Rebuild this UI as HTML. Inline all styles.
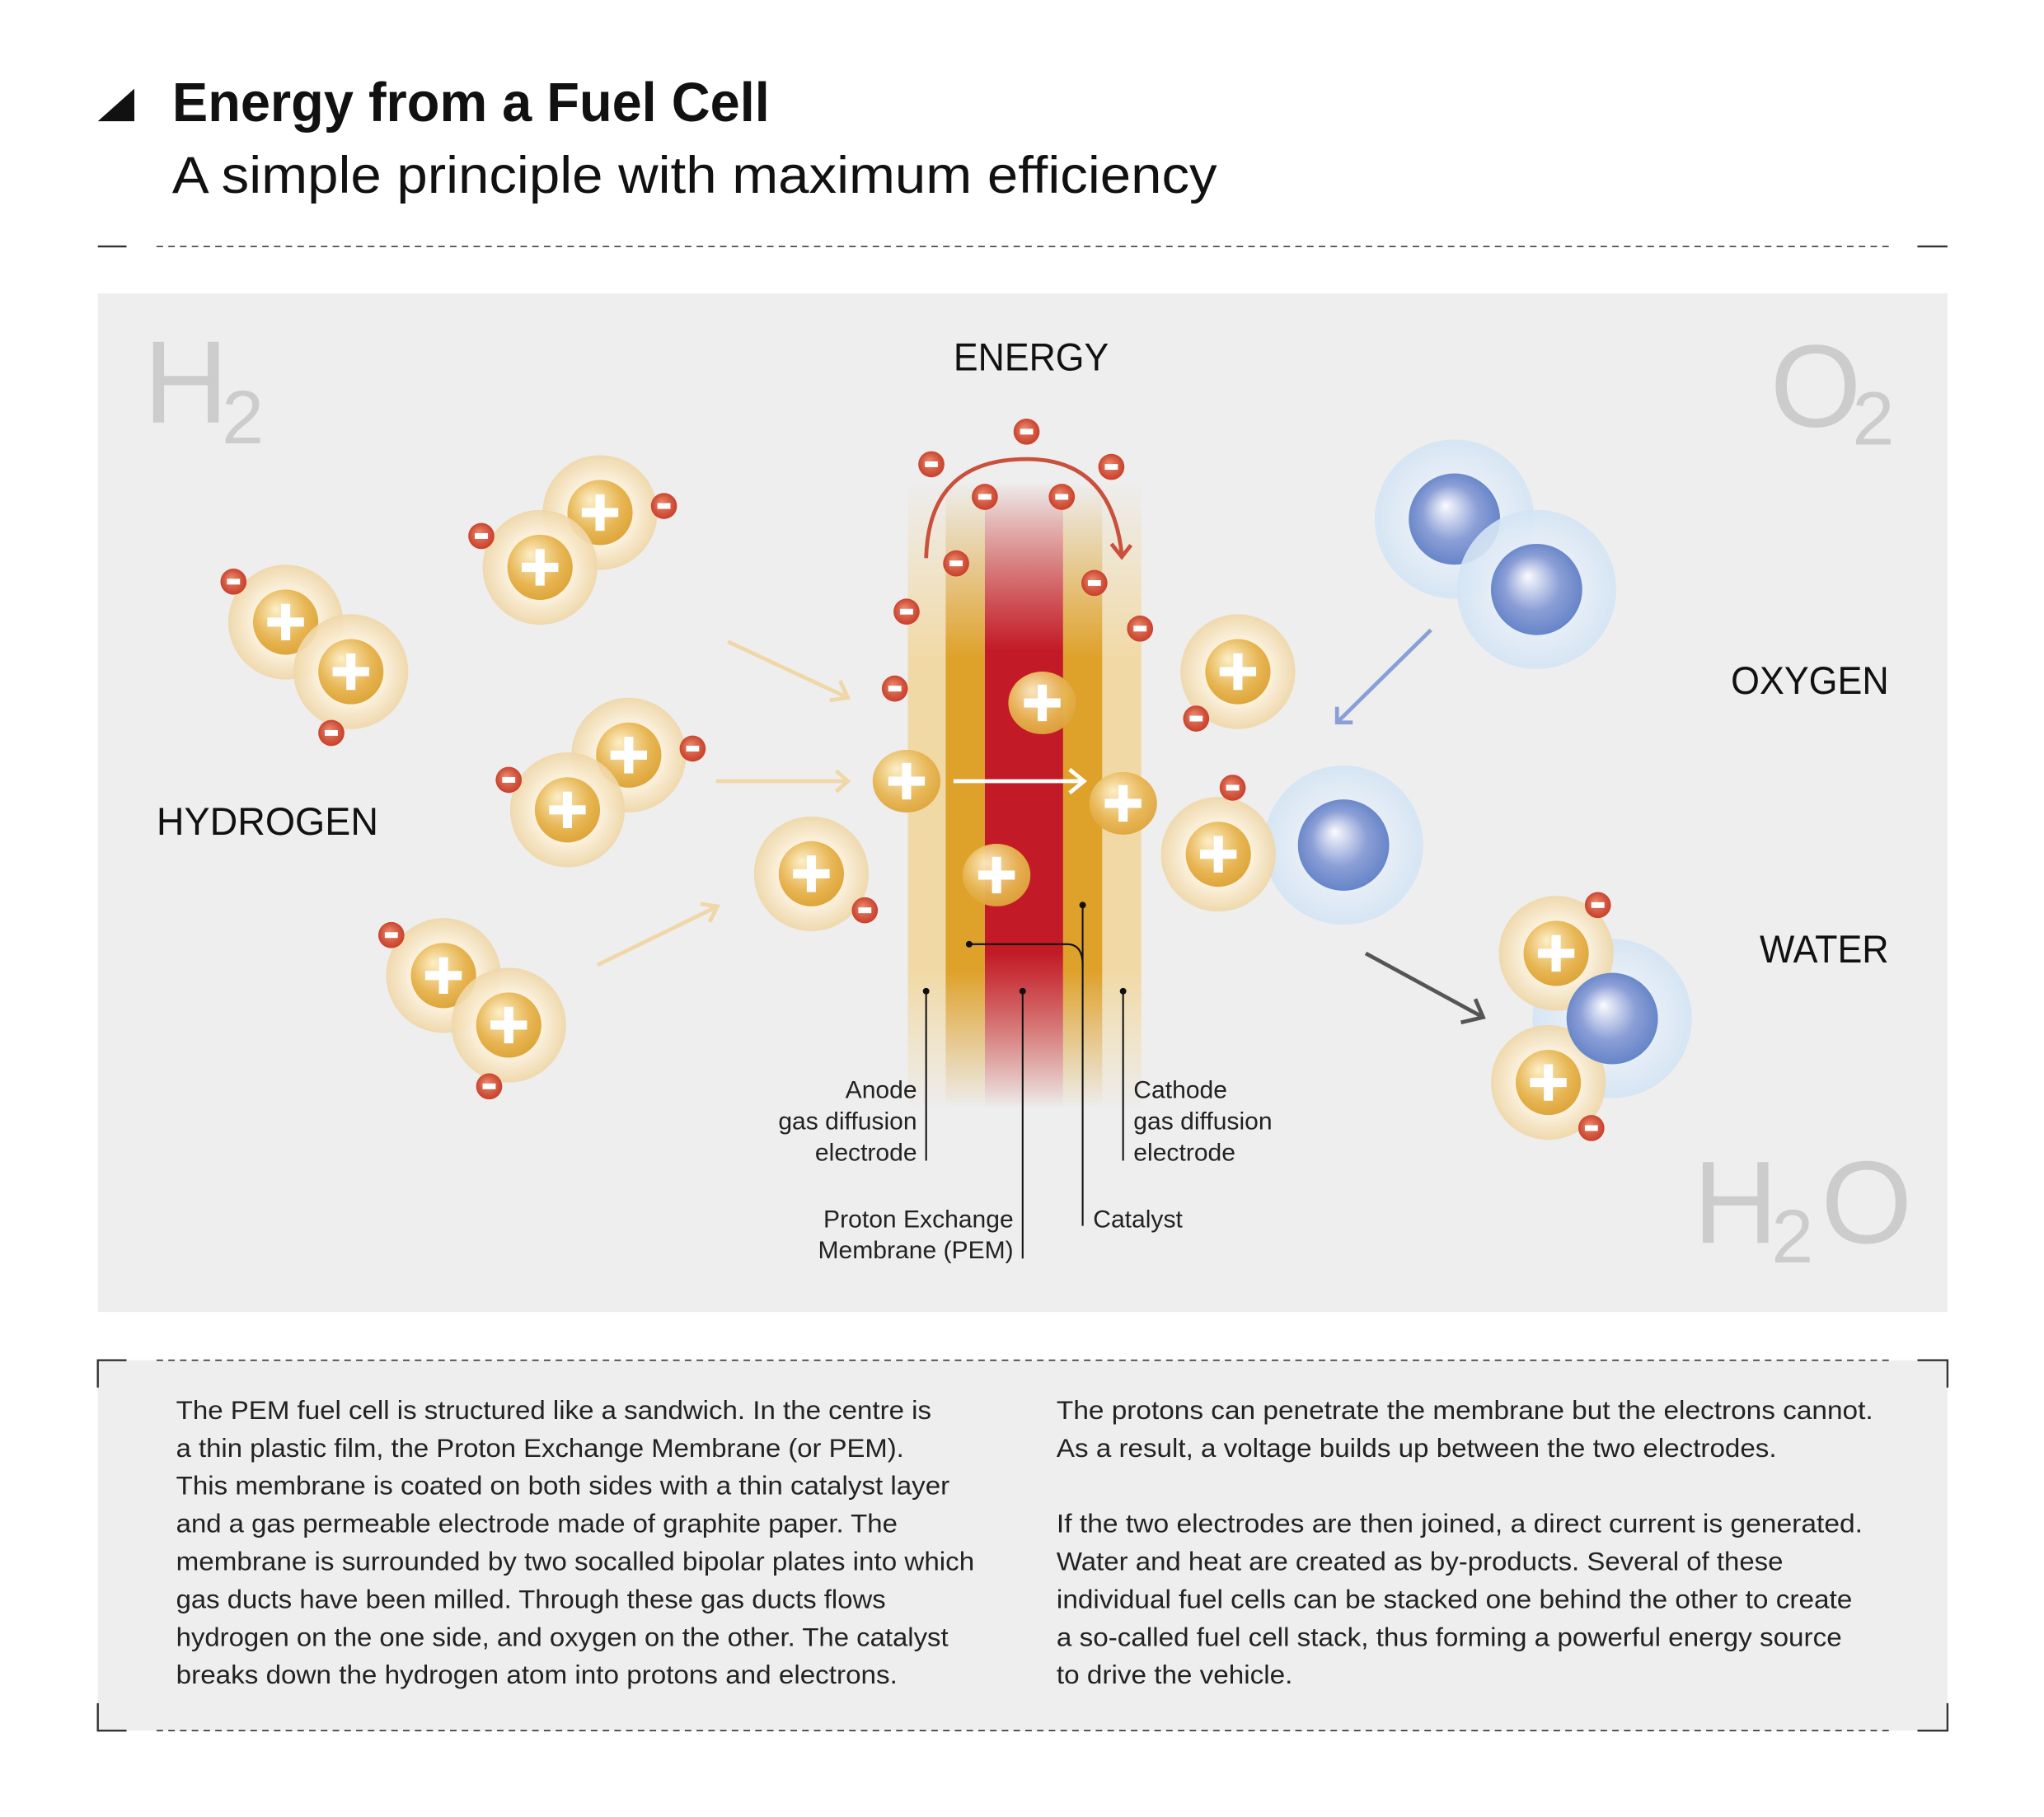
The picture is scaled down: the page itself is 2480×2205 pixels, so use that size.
<!DOCTYPE html>
<html><head><meta charset="utf-8"><style>
html,body{margin:0;padding:0;background:#fff;}
svg{display:block;}
text{font-family:"Liberation Sans",sans-serif;}
</style></head><body>
<svg width="2480" height="2205" viewBox="0 0 1567 1393" preserveAspectRatio="xMinYMin meet" xmlns="http://www.w3.org/2000/svg">
<defs>
<radialGradient id="gGlow" cx="50%" cy="50%" r="50%"><stop offset="0.5" stop-color="#fff6e4"/><stop offset="1" stop-color="#efd6a6"/></radialGradient>
<radialGradient id="gCore" cx="45%" cy="40%" r="60%" fx="35%" fy="30%"><stop offset="0" stop-color="#fcefc8"/><stop offset="0.7" stop-color="#e7b552"/><stop offset="1" stop-color="#dea63c"/></radialGradient>
<radialGradient id="gEl" cx="50%" cy="50%" r="55%" fx="40%" fy="35%"><stop offset="0" stop-color="#ea8a6c"/><stop offset="1" stop-color="#c63a27"/></radialGradient>
<radialGradient id="oGlow" cx="50%" cy="50%" r="50%"><stop offset="0.5" stop-color="#e8eff8"/><stop offset="1" stop-color="#d3e4f4"/></radialGradient>
<radialGradient id="oCore" cx="50%" cy="50%" r="55%" fx="40%" fy="35%"><stop offset="0" stop-color="#fbfbff"/><stop offset="0.55" stop-color="#8c9fd6"/><stop offset="1" stop-color="#5f80c6"/></radialGradient>
<linearGradient id="fadeV" x1="0" y1="0" x2="0" y2="1"><stop offset="0" stop-color="#fff" stop-opacity="0"/><stop offset="0.28" stop-color="#fff" stop-opacity="1"/><stop offset="0.78" stop-color="#fff" stop-opacity="1"/><stop offset="1" stop-color="#fff" stop-opacity="0"/></linearGradient>
<mask id="cellMask" maskUnits="userSpaceOnUse" x="690" y="360" width="200" height="500"><rect x="690" y="370" width="200" height="480" fill="url(#fadeV)"/></mask>
<linearGradient id="redFade" x1="0" y1="0" x2="0" y2="1"><stop offset="0" stop-color="#c21a26" stop-opacity="0"/><stop offset="0.27" stop-color="#c21a26"/><stop offset="0.75" stop-color="#c21a26"/><stop offset="1" stop-color="#c21a26" stop-opacity="0"/></linearGradient>
<g id="pro"><circle r="44" fill="url(#gGlow)" opacity="0.9"/><circle r="25" fill="url(#gCore)"/><rect x="-14" y="-3.5" width="28" height="7" fill="#fff"/><rect x="-3.5" y="-14" width="7" height="28" fill="#fff"/></g>
<g id="proS"><ellipse rx="26" ry="24" fill="url(#gCore)" opacity="0.95"/><rect x="-14" y="-3.5" width="28" height="7" fill="#fff"/><rect x="-3.5" y="-14" width="7" height="28" fill="#fff"/></g>
<g id="el"><circle r="10" fill="url(#gEl)"/><rect x="-5" y="-2.2" width="10" height="4.4" fill="#fff"/></g>
<g id="oxy"><circle r="61" fill="url(#oGlow)" opacity="0.9"/><circle r="35" fill="url(#oCore)"/></g>
</defs>

<polygon points="75,93 103,93 103,68" fill="#111"/>
<text x="132" y="93" font-size="42" font-weight="bold" fill="#111" textLength="458" lengthAdjust="spacingAndGlyphs">Energy from a Fuel Cell</text>
<text x="132" y="148" font-size="40" fill="#111" textLength="801" lengthAdjust="spacingAndGlyphs">A simple principle with maximum efficiency</text>
<line x1="75" y1="189" x2="97" y2="189" stroke="#333" stroke-width="1.5"/>
<line x1="120" y1="189" x2="1450" y2="189" stroke="#333" stroke-width="1" stroke-dasharray="5,4"/>
<line x1="1470" y1="189" x2="1493" y2="189" stroke="#333" stroke-width="1.5"/>

<rect x="75" y="225" width="1418" height="781" fill="#eeeeee"/>
<text x="110" y="324" font-size="90" fill="#cccccc">H</text>
<text x="170" y="340" font-size="58" fill="#cccccc">2</text>
<text x="1357" y="327" font-size="90" fill="#cccccc">O</text>
<text x="1420" y="341" font-size="58" fill="#cccccc">2</text>
<text x="1298" y="953" font-size="90" fill="#cccccc">H</text>
<text x="1358" y="968" font-size="58" fill="#cccccc">2</text>
<text x="1396" y="953" font-size="90" fill="#cccccc">O</text>

<text x="731" y="284" font-size="30" fill="#111" textLength="119" lengthAdjust="spacingAndGlyphs">ENERGY</text>
<text x="120" y="640" font-size="30" fill="#111" textLength="170" lengthAdjust="spacingAndGlyphs">HYDROGEN</text>
<text x="1327" y="532" font-size="30" fill="#111" textLength="121" lengthAdjust="spacingAndGlyphs">OXYGEN</text>
<text x="1349" y="738" font-size="30" fill="#111" textLength="99" lengthAdjust="spacingAndGlyphs">WATER</text>

<g mask="url(#cellMask)">
<rect x="696" y="370" width="29" height="480" fill="#f1d9a6"/>
<rect x="845" y="370" width="30" height="480" fill="#f1d9a6"/>
<rect x="725" y="370" width="30" height="480" fill="#dea12a"/>
<rect x="815" y="370" width="30" height="480" fill="#dea12a"/>
<rect x="755" y="370" width="60" height="480" fill="#ead0b8"/>
</g>
<rect x="755" y="370" width="60" height="480" fill="url(#redFade)"/>

<g stroke="#111" stroke-width="1.3" fill="none">
<line x1="710" y1="760" x2="710" y2="890"/>
<line x1="784" y1="760" x2="784" y2="965"/>
<line x1="861" y1="760" x2="861" y2="890"/>
<line x1="830" y1="694" x2="830" y2="940"/>
<path d="M743,724 H818 Q830,724 830,740"/>
</g>
<g fill="#111"><circle cx="710" cy="760" r="2.5"/><circle cx="784" cy="760" r="2.5"/><circle cx="861" cy="760" r="2.5"/><circle cx="830" cy="694" r="2.5"/><circle cx="743" cy="724" r="2.5"/></g>
<g font-size="19" fill="#222">
<text x="703" y="842" text-anchor="end">Anode</text>
<text x="703" y="866" text-anchor="end">gas diffusion</text>
<text x="703" y="890" text-anchor="end">electrode</text>
<text x="869" y="842">Cathode</text>
<text x="869" y="866">gas diffusion</text>
<text x="869" y="890">electrode</text>
<text x="777" y="941" text-anchor="end">Proton Exchange</text>
<text x="777" y="965" text-anchor="end">Membrane (PEM)</text>
<text x="838" y="941">Catalyst</text>
</g>

<g stroke="#f0d7a8" stroke-width="3" fill="none">
<line x1="558" y1="492" x2="650" y2="535"/><polyline points="636,537 650,535 644,522"/>
<line x1="549" y1="599" x2="650" y2="599"/><polyline points="641,591 650,599 641,607"/>
<line x1="458" y1="740" x2="550" y2="695"/><polyline points="537,693 550,695 544,707"/>
</g>
<g stroke="#8a9fd6" stroke-width="3" fill="none"><line x1="1097" y1="483" x2="1025" y2="554"/><polyline points="1025,542 1025,554 1037,554"/></g>
<g stroke="#555" stroke-width="3" fill="none"><line x1="1047" y1="731" x2="1137" y2="780"/><polyline points="1120,784 1137,780 1131,766"/></g>
<path d="M710,428 Q712,352 787,352 Q852,352 860,425" stroke="#c9503c" stroke-width="3" fill="none"/>
<polyline points="852,417 860,427 867,418" stroke="#c9503c" stroke-width="3" fill="none"/>

<use href="#pro" x="219" y="477"/><use href="#pro" x="269" y="515"/><use href="#el" x="179" y="446"/><use href="#el" x="254" y="562"/>
<use href="#pro" x="460" y="393"/><use href="#pro" x="414" y="435"/><use href="#el" x="509" y="388"/><use href="#el" x="369" y="411"/>
<use href="#pro" x="482" y="579"/><use href="#pro" x="435" y="621"/><use href="#el" x="531" y="574"/><use href="#el" x="390" y="598"/>
<use href="#pro" x="340" y="748"/><use href="#pro" x="390" y="786"/><use href="#el" x="300" y="717"/><use href="#el" x="375" y="833"/>
<use href="#pro" x="622" y="670"/><use href="#el" x="663" y="698"/>

<use href="#proS" x="695" y="599"/><use href="#proS" x="799" y="539"/><use href="#proS" x="764" y="671"/><use href="#proS" x="861" y="616"/>
<line x1="731" y1="599" x2="830" y2="599" stroke="#fff" stroke-width="3"/>
<polyline points="820,590 831,599 820,608" stroke="#fff" stroke-width="3" fill="none"/>

<use href="#el" x="787" y="331"/><use href="#el" x="714" y="356"/><use href="#el" x="852" y="358"/><use href="#el" x="755" y="381"/><use href="#el" x="814" y="381"/><use href="#el" x="733" y="432"/><use href="#el" x="839" y="447"/><use href="#el" x="695" y="469"/><use href="#el" x="874" y="482"/><use href="#el" x="686" y="528"/>

<use href="#pro" x="949" y="515"/><use href="#el" x="917" y="551"/>
<use href="#oxy" x="1030" y="648"/>
<use href="#pro" x="934" y="655"/><use href="#el" x="945" y="604"/>
<use href="#oxy" x="1115" y="398"/><use href="#oxy" x="1178" y="452"/>
<use href="#oxy" x="1236" y="781"/>
<use href="#pro" x="1193" y="731"/><use href="#pro" x="1187" y="830"/>
<circle cx="1236" cy="781" r="35" fill="url(#oCore)"/>
<use href="#el" x="1225" y="694"/><use href="#el" x="1220" y="865"/>

<rect x="75" y="1043" width="1418" height="284" fill="#eeeeee"/>
<line x1="120" y1="1043" x2="1450" y2="1043" stroke="#333" stroke-width="1" stroke-dasharray="5,4"/>
<line x1="120" y1="1327" x2="1450" y2="1327" stroke="#333" stroke-width="1" stroke-dasharray="5,4"/>
<g stroke="#333" stroke-width="1.5" fill="none">
<polyline points="75,1064 75,1043 97,1043"/><polyline points="1470,1043 1493,1043 1493,1064"/>
<polyline points="75,1306 75,1327 97,1327"/><polyline points="1470,1327 1493,1327 1493,1306"/>
</g>
<g font-size="20" fill="#222">
<text x="135" y="1088" textLength="579" lengthAdjust="spacingAndGlyphs">The PEM fuel cell is structured like a sandwich. In the centre is</text>
<text x="135" y="1117" textLength="558" lengthAdjust="spacingAndGlyphs">a thin plastic film, the Proton Exchange Membrane (or PEM).</text>
<text x="135" y="1146" textLength="593" lengthAdjust="spacingAndGlyphs">This membrane is coated on both sides with a thin catalyst layer</text>
<text x="135" y="1175" textLength="553" lengthAdjust="spacingAndGlyphs">and a gas permeable electrode made of graphite paper. The</text>
<text x="135" y="1204" textLength="612" lengthAdjust="spacingAndGlyphs">membrane is surrounded by two socalled bipolar plates into which</text>
<text x="135" y="1233" textLength="544" lengthAdjust="spacingAndGlyphs">gas ducts have been milled. Through these gas ducts flows</text>
<text x="135" y="1262" textLength="592" lengthAdjust="spacingAndGlyphs">hydrogen on the one side, and oxygen on the other. The catalyst</text>
<text x="135" y="1291" textLength="553" lengthAdjust="spacingAndGlyphs">breaks down the hydrogen atom into protons and electrons.</text>
<text x="810" y="1088" textLength="626" lengthAdjust="spacingAndGlyphs">The protons can penetrate the membrane but the electrons cannot.</text>
<text x="810" y="1117" textLength="552" lengthAdjust="spacingAndGlyphs">As a result, a voltage builds up between the two electrodes.</text>
<text x="810" y="1175" textLength="618" lengthAdjust="spacingAndGlyphs">If the two electrodes are then joined, a direct current is generated.</text>
<text x="810" y="1204" textLength="557" lengthAdjust="spacingAndGlyphs">Water and heat are created as by-products. Several of these</text>
<text x="810" y="1233" textLength="610" lengthAdjust="spacingAndGlyphs">individual fuel cells can be stacked one behind the other to create</text>
<text x="810" y="1262" textLength="602" lengthAdjust="spacingAndGlyphs">a so-called fuel cell stack, thus forming a powerful energy source</text>
<text x="810" y="1291" textLength="181" lengthAdjust="spacingAndGlyphs">to drive the vehicle.</text>
</g>
</svg>
</body></html>
